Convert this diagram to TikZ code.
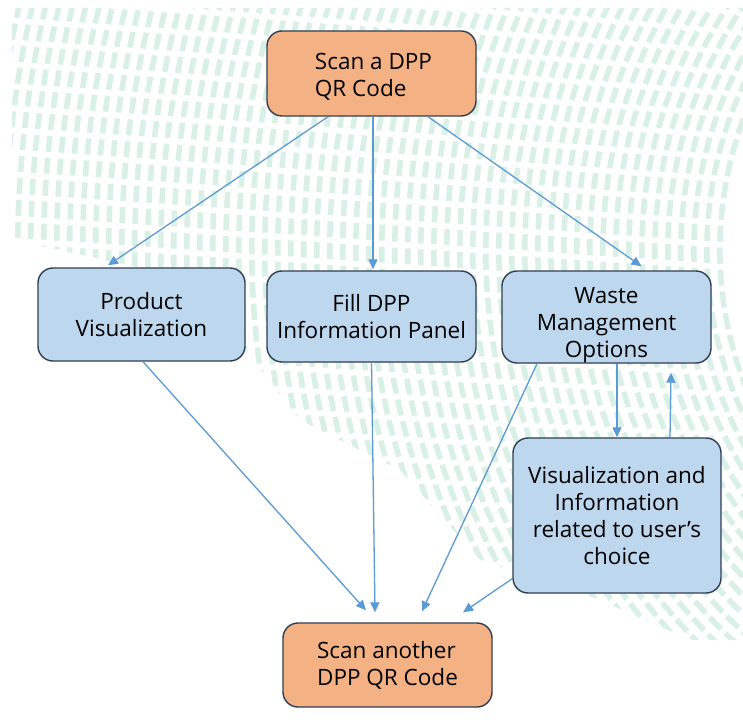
\documentclass[tikz,border=0pt]{standalone}
\usepackage{fontspec}
\setmainfont{Open Sans}
\usetikzlibrary{arrows.meta,calc}

\definecolor{boxorange}{RGB}{244,177,131}
\definecolor{boxblue}{RGB}{189,215,238}
\definecolor{boxedge}{RGB}{47,62,82}
\definecolor{linkblue}{RGB}{91,155,213}
\definecolor{mint}{RGB}{216,240,229}

\tikzset{
  cardfont/.style={font=\fontsize{22.5}{27}\selectfont},
  card/.style={draw=boxedge, line width=1.4pt, rounded corners=15pt,
    cardfont, inner sep=4pt},
  orangecard/.style={card, fill=boxorange, align=left},
  bluecard/.style={card, fill=boxblue, align=center},
  cardtext/.style={cardfont, align=center, inner sep=0pt},
  link/.style={draw=linkblue, line width=1.3pt,
    -{Triangle[length=10pt,width=9pt]}},
  stripe/.style={draw=mint, line width=5.5pt}
}

\begin{document}
\begin{tikzpicture}[x=1pt,y=1pt]
  \useasboundingbox (0,0) rectangle (743,-719);
  \fill[white] (0,0) rectangle (743,-719);

  % faint fingerprint-like backdrop
  \begin{scope}
    \clip (12,-8) -- (743,-8) -- (743,-640) -- (690,-640) -- (600,-600)
      -- (480,-560) -- (400,-470) -- (300,-420) -- (230,-330)
      -- (150,-270) -- (60,-250) -- (12,-240) -- cycle;
    \foreach \i in {0,...,60}{
      \pgfmathsetmacro{\rad}{380+13*\i}
      \pgfmathsetmacro{\ph}{mod(\i*7,22)}
      \draw[stripe, dash pattern=on 16pt off 6pt, dash phase=\ph pt]
        (1100,-250) ++(110:\rad) arc[start angle=110, end angle=250, radius=\rad];
    }
  \end{scope}

  % nodes
  \node[orangecard, minimum width=209pt, minimum height=85pt] (scan1) at (371.5,-73.5) {};
  \node[cardtext, align=left] (scan1text) at ([xshift=2pt,yshift=-3pt]scan1.center)
    {Scan a DPP\\QR Code};
  \node[bluecard, minimum width=207pt, minimum height=93pt] (prod) at (141.5,-314.5)
    {Product\\Visualization};
  \node[bluecard, minimum width=209pt, minimum height=91pt] (fill) at (371.5,-316.5)
    {Fill DPP\\Information Panel};
  \node[bluecard, minimum width=209pt, minimum height=92pt] (waste) at (606.5,-317) {};
  \node[cardtext] (wastetext) at ([yshift=-8pt]waste.center)
    {Waste\\Management\\Options};
  \node[bluecard, minimum width=208pt, minimum height=155pt] (vis) at (617,-515.5)
    {Visualization and\\Information\\related to user's\\choice};
  \node[orangecard, minimum width=209pt, minimum height=84pt] (scan2) at (387.5,-665)
    {Scan another\\DPP QR Code};

  % connectors from the first scan
  \draw[link] ([xshift=-43.5pt]scan1.south) -- ([xshift=-33.5pt,yshift=2pt]prod.north);
  \draw[link] ([xshift=1.5pt]scan1.south) -- ([xshift=1.5pt,yshift=1pt]fill.north);
  \draw[link] ([xshift=56.5pt]scan1.south) -- ([xshift=35pt,yshift=4pt]waste.north);

  % connectors towards the second scan
  \draw[link] ([xshift=1.5pt]prod.south) -- ([xshift=-21.5pt,yshift=12pt]scan2.north);
  \draw[link] (fill.south) -- ([xshift=-12.5pt,yshift=10pt]scan2.north);
  \draw[link] ([xshift=-69.5pt]waste.south) -- ([xshift=34.5pt,yshift=11pt]scan2.north);
  \draw[link] ([yshift=15pt]vis.south west) -- ([xshift=75.5pt,yshift=10pt]scan2.north);

  % loop between waste options and user's choice
  \draw[link] ([xshift=10.5pt]waste.south) -- (vis.north);
  \draw[link] ([xshift=53pt]vis.north) -- ([xshift=64.5pt,yshift=-9pt]waste.south);
\end{tikzpicture}
\end{document}
